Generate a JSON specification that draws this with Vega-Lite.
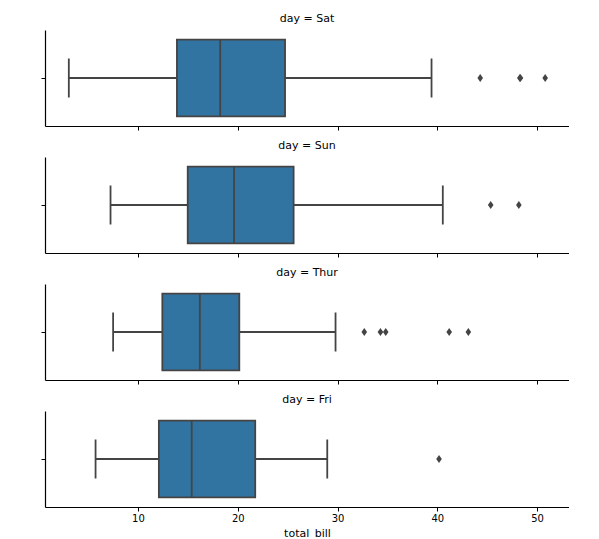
{
  "$schema": "https://vega.github.io/schema/vega-lite/v6.json",
  "background": "white",
  "padding": {"left": 40, "top": 13, "right": 0, "bottom": 0},
  "spacing": 9,
  "datasets": {
    "boxes": [
      {"day": "Sat", "lo": 3.07, "q1": 13.905, "med": 18.24, "q3": 24.74, "hi": 39.42},
      {"day": "Sun", "lo": 7.25, "q1": 14.9875, "med": 19.63, "q3": 25.5975, "hi": 40.55},
      {"day": "Thur", "lo": 7.51, "q1": 12.4425, "med": 16.2, "q3": 20.155, "hi": 29.8},
      {"day": "Fri", "lo": 5.75, "q1": 12.095, "med": 15.38, "q3": 21.75, "hi": 28.97}
    ],
    "outliers": [
      {"day": "Sat", "total_bill": 44.3},
      {"day": "Sat", "total_bill": 48.27},
      {"day": "Sat", "total_bill": 48.33},
      {"day": "Sat", "total_bill": 50.81},
      {"day": "Sun", "total_bill": 45.35},
      {"day": "Sun", "total_bill": 48.17},
      {"day": "Thur", "total_bill": 32.68},
      {"day": "Thur", "total_bill": 34.3},
      {"day": "Thur", "total_bill": 34.83},
      {"day": "Thur", "total_bill": 41.19},
      {"day": "Thur", "total_bill": 43.11},
      {"day": "Fri", "total_bill": 40.17}
    ]
  },
  "vconcat": [
    {
      "title": "day = Sat",
      "width": 524, "height": 96,
      "encoding": {"y": {"field": "day", "type": "nominal", "scale": {"paddingInner": 0.2, "paddingOuter": 0.1}, "axis": {"labels": false, "title": null, "ticks": true, "domain": true}}},
      "layer": [
        {"data": {"name": "boxes"}, "transform": [{"filter": "datum.day === 'Sat'"}], "mark": {"type": "rule", "color": "#444444", "strokeWidth": 1.8},
         "encoding": {"x": {"field": "lo", "type": "quantitative", "scale": {"domain": [0.683, 53.197], "nice": false, "zero": false}, "axis": {"labels": false, "title": null, "values": [10, 20, 30, 40, 50]}}, "x2": {"field": "hi"}}},
        {"data": {"name": "boxes"}, "transform": [{"filter": "datum.day === 'Sat'"}], "mark": {"type": "tick", "color": "#444444", "size": 39, "thickness": 1.8, "opacity": 1},
         "encoding": {"x": {"field": "lo", "type": "quantitative"}}},
        {"data": {"name": "boxes"}, "transform": [{"filter": "datum.day === 'Sat'"}], "mark": {"type": "tick", "color": "#444444", "size": 39, "thickness": 1.8, "opacity": 1},
         "encoding": {"x": {"field": "hi", "type": "quantitative"}}},
        {"data": {"name": "boxes"}, "transform": [{"filter": "datum.day === 'Sat'"}], "mark": {"type": "bar", "fill": "#3274a1", "stroke": "#444444", "strokeWidth": 1.8},
         "encoding": {"x": {"field": "q1", "type": "quantitative"}, "x2": {"field": "q3"}}},
        {"data": {"name": "boxes"}, "transform": [{"filter": "datum.day === 'Sat'"}], "mark": {"type": "tick", "color": "#444444", "size": 77, "thickness": 1.8, "opacity": 1},
         "encoding": {"x": {"field": "med", "type": "quantitative"}}},
        {"data": {"name": "outliers"}, "transform": [{"filter": "datum.day === 'Sat'"}], "mark": {"type": "point", "shape": "M0,-1L0.7,0L0,1L-0.7,0Z", "filled": true, "size": 64, "color": "#444444", "opacity": 1},
         "encoding": {"x": {"field": "total_bill", "type": "quantitative"}}}
      ]
    },
    {
      "title": "day = Sun",
      "width": 524, "height": 96,
      "encoding": {"y": {"field": "day", "type": "nominal", "scale": {"paddingInner": 0.2, "paddingOuter": 0.1}, "axis": {"labels": false, "title": null, "ticks": true, "domain": true}}},
      "layer": [
        {"data": {"name": "boxes"}, "transform": [{"filter": "datum.day === 'Sun'"}], "mark": {"type": "rule", "color": "#444444", "strokeWidth": 1.8},
         "encoding": {"x": {"field": "lo", "type": "quantitative", "scale": {"domain": [0.683, 53.197], "nice": false, "zero": false}, "axis": {"labels": false, "title": null, "values": [10, 20, 30, 40, 50]}}, "x2": {"field": "hi"}}},
        {"data": {"name": "boxes"}, "transform": [{"filter": "datum.day === 'Sun'"}], "mark": {"type": "tick", "color": "#444444", "size": 39, "thickness": 1.8, "opacity": 1},
         "encoding": {"x": {"field": "lo", "type": "quantitative"}}},
        {"data": {"name": "boxes"}, "transform": [{"filter": "datum.day === 'Sun'"}], "mark": {"type": "tick", "color": "#444444", "size": 39, "thickness": 1.8, "opacity": 1},
         "encoding": {"x": {"field": "hi", "type": "quantitative"}}},
        {"data": {"name": "boxes"}, "transform": [{"filter": "datum.day === 'Sun'"}], "mark": {"type": "bar", "fill": "#3274a1", "stroke": "#444444", "strokeWidth": 1.8},
         "encoding": {"x": {"field": "q1", "type": "quantitative"}, "x2": {"field": "q3"}}},
        {"data": {"name": "boxes"}, "transform": [{"filter": "datum.day === 'Sun'"}], "mark": {"type": "tick", "color": "#444444", "size": 77, "thickness": 1.8, "opacity": 1},
         "encoding": {"x": {"field": "med", "type": "quantitative"}}},
        {"data": {"name": "outliers"}, "transform": [{"filter": "datum.day === 'Sun'"}], "mark": {"type": "point", "shape": "M0,-1L0.7,0L0,1L-0.7,0Z", "filled": true, "size": 64, "color": "#444444", "opacity": 1},
         "encoding": {"x": {"field": "total_bill", "type": "quantitative"}}}
      ]
    },
    {
      "title": "day = Thur",
      "width": 524, "height": 96,
      "encoding": {"y": {"field": "day", "type": "nominal", "scale": {"paddingInner": 0.2, "paddingOuter": 0.1}, "axis": {"labels": false, "title": null, "ticks": true, "domain": true}}},
      "layer": [
        {"data": {"name": "boxes"}, "transform": [{"filter": "datum.day === 'Thur'"}], "mark": {"type": "rule", "color": "#444444", "strokeWidth": 1.8},
         "encoding": {"x": {"field": "lo", "type": "quantitative", "scale": {"domain": [0.683, 53.197], "nice": false, "zero": false}, "axis": {"labels": false, "title": null, "values": [10, 20, 30, 40, 50]}}, "x2": {"field": "hi"}}},
        {"data": {"name": "boxes"}, "transform": [{"filter": "datum.day === 'Thur'"}], "mark": {"type": "tick", "color": "#444444", "size": 39, "thickness": 1.8, "opacity": 1},
         "encoding": {"x": {"field": "lo", "type": "quantitative"}}},
        {"data": {"name": "boxes"}, "transform": [{"filter": "datum.day === 'Thur'"}], "mark": {"type": "tick", "color": "#444444", "size": 39, "thickness": 1.8, "opacity": 1},
         "encoding": {"x": {"field": "hi", "type": "quantitative"}}},
        {"data": {"name": "boxes"}, "transform": [{"filter": "datum.day === 'Thur'"}], "mark": {"type": "bar", "fill": "#3274a1", "stroke": "#444444", "strokeWidth": 1.8},
         "encoding": {"x": {"field": "q1", "type": "quantitative"}, "x2": {"field": "q3"}}},
        {"data": {"name": "boxes"}, "transform": [{"filter": "datum.day === 'Thur'"}], "mark": {"type": "tick", "color": "#444444", "size": 77, "thickness": 1.8, "opacity": 1},
         "encoding": {"x": {"field": "med", "type": "quantitative"}}},
        {"data": {"name": "outliers"}, "transform": [{"filter": "datum.day === 'Thur'"}], "mark": {"type": "point", "shape": "M0,-1L0.7,0L0,1L-0.7,0Z", "filled": true, "size": 64, "color": "#444444", "opacity": 1},
         "encoding": {"x": {"field": "total_bill", "type": "quantitative"}}}
      ]
    },
    {
      "title": "day = Fri",
      "width": 524, "height": 96,
      "encoding": {"y": {"field": "day", "type": "nominal", "scale": {"paddingInner": 0.2, "paddingOuter": 0.1}, "axis": {"labels": false, "title": null, "ticks": true, "domain": true}}},
      "layer": [
        {"data": {"name": "boxes"}, "transform": [{"filter": "datum.day === 'Fri'"}], "mark": {"type": "rule", "color": "#444444", "strokeWidth": 1.8},
         "encoding": {"x": {"field": "lo", "type": "quantitative", "scale": {"domain": [0.683, 53.197], "nice": false, "zero": false}, "axis": {"title": "total_bill", "values": [10, 20, 30, 40, 50]}}, "x2": {"field": "hi"}}},
        {"data": {"name": "boxes"}, "transform": [{"filter": "datum.day === 'Fri'"}], "mark": {"type": "tick", "color": "#444444", "size": 39, "thickness": 1.8, "opacity": 1},
         "encoding": {"x": {"field": "lo", "type": "quantitative"}}},
        {"data": {"name": "boxes"}, "transform": [{"filter": "datum.day === 'Fri'"}], "mark": {"type": "tick", "color": "#444444", "size": 39, "thickness": 1.8, "opacity": 1},
         "encoding": {"x": {"field": "hi", "type": "quantitative"}}},
        {"data": {"name": "boxes"}, "transform": [{"filter": "datum.day === 'Fri'"}], "mark": {"type": "bar", "fill": "#3274a1", "stroke": "#444444", "strokeWidth": 1.8},
         "encoding": {"x": {"field": "q1", "type": "quantitative"}, "x2": {"field": "q3"}}},
        {"data": {"name": "boxes"}, "transform": [{"filter": "datum.day === 'Fri'"}], "mark": {"type": "tick", "color": "#444444", "size": 77, "thickness": 1.8, "opacity": 1},
         "encoding": {"x": {"field": "med", "type": "quantitative"}}},
        {"data": {"name": "outliers"}, "transform": [{"filter": "datum.day === 'Fri'"}], "mark": {"type": "point", "shape": "M0,-1L0.7,0L0,1L-0.7,0Z", "filled": true, "size": 64, "color": "#444444", "opacity": 1},
         "encoding": {"x": {"field": "total_bill", "type": "quantitative"}}}
      ]
    }
  ],
  "config": {
    "view": {"stroke": null},
    "title": {"font": "DejaVu Sans", "fontSize": 11, "fontWeight": "normal", "color": "black", "anchor": "middle", "baseline": "alphabetic", "offset": 6},
    "axis": {"grid": false, "domainColor": "black", "domainWidth": 1.2, "tickColor": "black", "tickWidth": 1, "tickSize": 4, "labelFont": "DejaVu Sans", "labelFontSize": 10, "labelColor": "black", "labelPadding": 2, "titleFont": "DejaVu Sans", "titleFontSize": 11, "titleFontWeight": "normal", "titleColor": "black", "titlePadding": 4}
  }
}
